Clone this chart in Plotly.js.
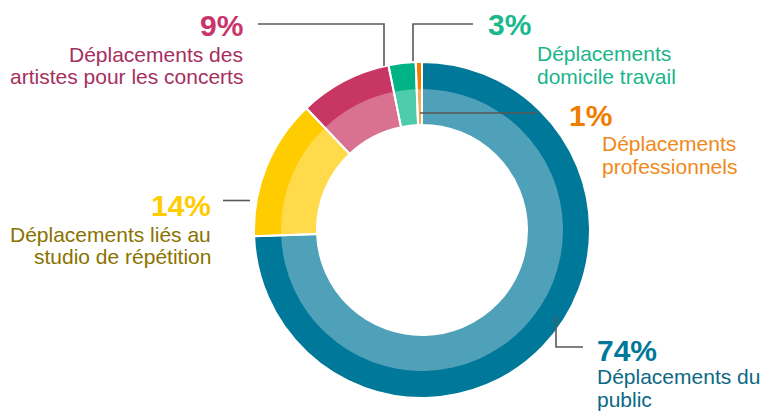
<!DOCTYPE html>
<html>
<head>
<meta charset="utf-8">
<script src="https://cdn.plot.ly/plotly-3.0.1.min.js"></script>
<style>
html,body{margin:0;padding:0;background:#fff;}
#chart{width:762px;height:415px;}
</style>
</head>
<body>
<div id="chart"></div>
<script>
// ---- data ----
const categories = ['Déplacements du public', 'Déplacements liés au studio de répétition', 'Déplacements des artistes pour les concerts', 'Déplacements domicile travail', 'Déplacements professionnels'];
const shares = [74.4, 13.5, 8.9, 2.6, 0.6];           // angular share of each slice
const pctLabels = ['74%', '14%', '9%', '3%', '1%'];
const descLines = [
  ['Déplacements du', 'public'],
  ['Déplacements liés au', 'studio de répétition'],
  ['Déplacements des', 'artistes pour les concerts'],
  ['Déplacements', 'domicile travail'],
  ['Déplacements', 'professionnels']
];

// ---- styling ----
const darkColors  = ['#007899', '#ffcc00', '#c83664', '#00b386', '#f07f00'];
const lightColors = ['#4fa1ba', '#ffda4a', '#d97290', '#4dcbab', '#f5ab58'];
const pctColors   = ['#00789a', '#ffcc00', '#c8356a', '#1ab98d', '#ee7d00'];
const descColors  = ['#0b6985', '#8a7200', '#a5305e', '#1ab58b', '#f0881a'];

const W = 762, H = 415;
const CX = 422, CY = 230, R_OUT = 168, R_MID = 141, R_IN = 105;

function dom(r) {
  return {
    x: [(CX - r) / W, (CX + r) / W],
    y: [(H - CY - r) / H, (H - CY + r) / H]
  };
}

const common = {
  type: 'pie', labels: categories, values: shares, sort: false,
  direction: 'clockwise', rotation: 0, textinfo: 'none',
  hoverinfo: 'skip', showlegend: false
};

const traces = [
  Object.assign({}, common, {
    domain: dom(R_OUT), hole: (R_MID - 2) / R_OUT,
    marker: {colors: darkColors, line: {width: 0}}
  }),
  Object.assign({}, common, {
    domain: dom(R_MID), hole: R_IN / R_MID,
    marker: {colors: lightColors, line: {width: 0}}
  }),
  Object.assign({}, common, {
    domain: dom(R_OUT), hole: R_IN / R_OUT,
    marker: {colors: categories.map(() => 'rgba(0,0,0,0)'), line: {color: '#ffffff', width: 2}}
  })
];

// label placement (pixel positions in the picture)
const labelPos = [
  {x: 595, anchor: 'left',  pctY: 350, lineY: [376.6, 399.7]},
  {x: 213, anchor: 'right', pctY: 205.5, lineY: [234.6, 256.6]},
  {x: 245, anchor: 'right', pctY: 25.5, lineY: [54.3, 76.6]},
  {x: 486, anchor: 'left',  pctY: 24.5, lineY: [53.8, 76.1], descX: 535},
  {x: 567, anchor: 'left',  pctY: 115.5, lineY: [143.3, 166.6], descX: 600}
];

const FONT = '"Liberation Sans", Arial, Helvetica, sans-serif';
const annotations = [];
categories.forEach((c, i) => {
  const p = labelPos[i];
  annotations.push({
    xref: 'paper', yref: 'paper', x: p.x / W, y: 1 - p.pctY / H,
    xanchor: p.anchor, yanchor: 'middle', showarrow: false,
    text: '<b>' + pctLabels[i] + '</b>',
    font: {family: FONT, size: 30, color: pctColors[i]}
  });
  descLines[i].forEach((t, k) => {
    annotations.push({
      xref: 'paper', yref: 'paper', x: (p.descX || p.x) / W, y: 1 - p.lineY[k] / H,
      xanchor: p.anchor, yanchor: 'middle', showarrow: false,
      text: t,
      font: {family: FONT, size: 21, color: descColors[i]}
    });
  });
});

// leader lines (pixel paths)
const leaders = [
  [[556, 316], [556, 347], [583, 347]],
  [[223, 200.5], [250, 200.5]],
  [[258, 24], [384, 24], [384, 66]],
  [[473, 24], [413, 24], [413, 61]],
  [[420, 113], [537, 113]]
];
const shapes = leaders.map(pts => ({
  type: 'path', xref: 'paper', yref: 'paper',
  path: pts.map((pt, k) => (k ? 'L' : 'M') + (pt[0] / W) + ',' + (1 - pt[1] / H)).join(' '),
  line: {color: '#5d5555', width: 1.6}
}));

Plotly.newPlot('chart', traces, {
  width: W, height: H,
  margin: {l: 0, r: 0, t: 0, b: 0},
  paper_bgcolor: '#ffffff', plot_bgcolor: '#ffffff',
  annotations: annotations, shapes: shapes,
  font: {family: FONT}
}, {staticPlot: true, displayModeBar: false});
</script>
</body>
</html>
